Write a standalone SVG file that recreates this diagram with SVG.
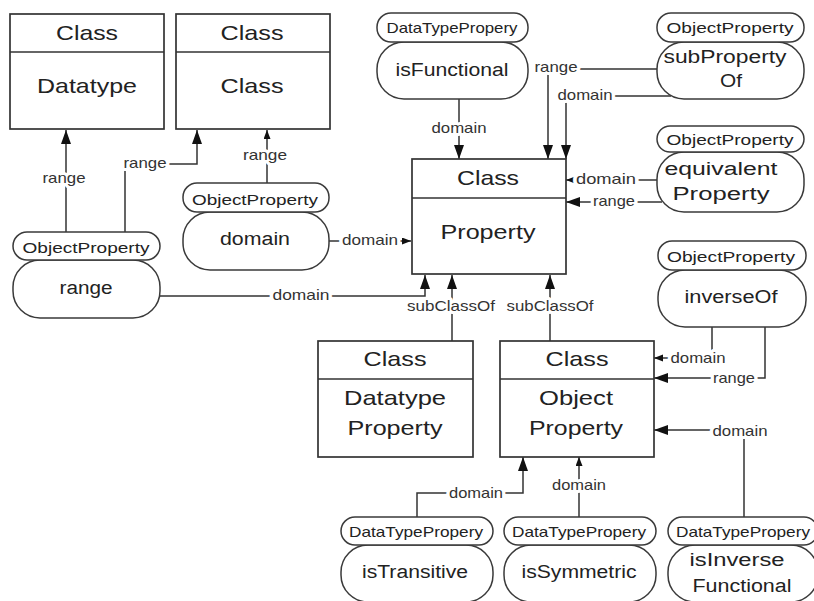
<svg xmlns="http://www.w3.org/2000/svg" width="814" height="601" viewBox="0 0 814 601">
  <style>
    .box { fill: #fff; stroke: #333; stroke-width: 1.7; }
    .div { stroke: #333; stroke-width: 1.7; }
    .pill { fill: #fff; stroke: #3a3a3a; stroke-width: 1.5; }
    .t { font-family: "Liberation Sans", Arial, sans-serif; fill: #222; text-anchor: middle; }
    .big { font-size: 21px; }
    .nt { font-size: 18px; }
    .pt { font-size: 15px; }
    .lab { font-size: 14.5px; fill: #333; stroke: #fff; stroke-width: 6; paint-order: stroke; stroke-linejoin: round; }
    .c { fill: none; stroke: #333; stroke-width: 1.5; }
    .ab { marker-end: url(#arrBig); }
    .as { marker-end: url(#arrSmall); }
  </style>
  <defs>
    <marker id="arrBig" markerUnits="userSpaceOnUse" markerWidth="15" markerHeight="11" refX="14" refY="5" orient="auto">
      <path d="M0,0 L14,5 L0,10 z" fill="#111"/>
    </marker>
    <marker id="arrSmall" markerUnits="userSpaceOnUse" markerWidth="10" markerHeight="8" refX="9" refY="3.5" orient="auto">
      <path d="M0,0 L9,3.5 L0,7 z" fill="#111"/>
    </marker>
  </defs>
  <rect width="814" height="601" fill="#fff"/>

  <!-- connectors -->
  <g id="connectors">
    <path class="c ab" d="M66,232 V130"/>
    <path class="c ab" d="M125,232 V164 H197 V130"/>
    <path class="c as" d="M267,183 V130"/>
    <path class="c ab" d="M459,99 V159"/>
    <path class="c ab" d="M657,69 H548 V159"/>
    <path class="c ab" d="M671,96 H566 V159"/>
    <path class="c as" d="M657,180 H566"/>
    <path class="c ab" d="M662,202 H566"/>
    <path class="c as" d="M329,241 H411"/>
    <path class="c ab" d="M160,296 H425 V275"/>
    <path class="c ab" d="M452,341 V275"/>
    <path class="c ab" d="M550,341 V275"/>
    <path class="c as" d="M712,327 V358 H654"/>
    <path class="c ab" d="M765,327 V378 H654"/>
    <path class="c ab" d="M744,517 V430 H654"/>
    <path class="c ab" d="M417,517 V493 H523 V457"/>
    <path class="c as" d="M579,517 V457"/>

    <text class="t lab" x="64" y="183" textLength="43" lengthAdjust="spacingAndGlyphs">range</text>
    <text class="t lab" x="145" y="168" textLength="43" lengthAdjust="spacingAndGlyphs">range</text>
    <text class="t lab" x="265" y="160" textLength="44" lengthAdjust="spacingAndGlyphs">range</text>
    <text class="t lab" x="459" y="133" textLength="55" lengthAdjust="spacingAndGlyphs">domain</text>
    <text class="t lab" x="556" y="72" textLength="43" lengthAdjust="spacingAndGlyphs">range</text>
    <text class="t lab" x="585" y="100" textLength="55" lengthAdjust="spacingAndGlyphs">domain</text>
    <text class="t lab" x="606" y="184" textLength="60" lengthAdjust="spacingAndGlyphs">domain</text>
    <text class="t lab" x="614" y="206" textLength="42" lengthAdjust="spacingAndGlyphs">range</text>
    <text class="t lab" x="370" y="245" textLength="56" lengthAdjust="spacingAndGlyphs">domain</text>
    <text class="t lab" x="301" y="300" textLength="57" lengthAdjust="spacingAndGlyphs">domain</text>
    <text class="t lab" x="451" y="311" textLength="88" lengthAdjust="spacingAndGlyphs">subClassOf</text>
    <text class="t lab" x="550" y="311" textLength="87" lengthAdjust="spacingAndGlyphs">subClassOf</text>
    <text class="t lab" x="698" y="363" textLength="55" lengthAdjust="spacingAndGlyphs">domain</text>
    <text class="t lab" x="734" y="383" textLength="42" lengthAdjust="spacingAndGlyphs">range</text>
    <text class="t lab" x="740" y="436" textLength="55" lengthAdjust="spacingAndGlyphs">domain</text>
    <text class="t lab" x="476" y="498" textLength="54" lengthAdjust="spacingAndGlyphs">domain</text>
    <text class="t lab" x="579" y="490" textLength="54" lengthAdjust="spacingAndGlyphs">domain</text>
  </g>

  <!-- class boxes -->
  <g id="datatype">
    <rect class="box" x="10" y="14" width="154" height="115"/>
    <line class="div" x1="10" y1="52" x2="164" y2="52"/>
    <text class="t big" x="87" y="40" textLength="62" lengthAdjust="spacingAndGlyphs">Class</text>
    <text class="t big" x="87" y="93" textLength="100" lengthAdjust="spacingAndGlyphs">Datatype</text>
  </g>
  <g id="class">
    <rect class="box" x="176" y="14" width="154" height="115"/>
    <line class="div" x1="176" y1="52" x2="330" y2="52"/>
    <text class="t big" x="252" y="40" textLength="63" lengthAdjust="spacingAndGlyphs">Class</text>
    <text class="t big" x="252" y="93" textLength="63" lengthAdjust="spacingAndGlyphs">Class</text>
  </g>
  <g id="property">
    <rect class="box" x="412" y="159" width="154" height="115"/>
    <line class="div" x1="412" y1="198" x2="566" y2="198"/>
    <text class="t big" x="488" y="185" textLength="62" lengthAdjust="spacingAndGlyphs">Class</text>
    <text class="t big" x="488" y="239" textLength="95" lengthAdjust="spacingAndGlyphs">Property</text>
  </g>
  <g id="datatypeProperty">
    <rect class="box" x="318" y="341" width="155" height="116"/>
    <line class="div" x1="318" y1="379" x2="473" y2="379"/>
    <text class="t big" x="395" y="366" textLength="63" lengthAdjust="spacingAndGlyphs">Class</text>
    <text class="t big" x="395" y="405" textLength="102" lengthAdjust="spacingAndGlyphs">Datatype</text>
    <text class="t big" x="395" y="435" textLength="95" lengthAdjust="spacingAndGlyphs">Property</text>
  </g>
  <g id="objectProperty">
    <rect class="box" x="500" y="341" width="154" height="116"/>
    <line class="div" x1="500" y1="379" x2="654" y2="379"/>
    <text class="t big" x="577" y="366" textLength="63" lengthAdjust="spacingAndGlyphs">Class</text>
    <text class="t big" x="576" y="405" textLength="74" lengthAdjust="spacingAndGlyphs">Object</text>
    <text class="t big" x="576" y="435" textLength="94" lengthAdjust="spacingAndGlyphs">Property</text>
  </g>

  <!-- property nodes: type tag above, name below -->
  <g id="rangeNode">
    <rect class="pill" x="13" y="260" width="147" height="58" rx="27" ry="27"/>
    <rect class="pill" x="13" y="232" width="147" height="28" rx="14" ry="14"/>
    <text class="t pt" x="86" y="253" textLength="127" lengthAdjust="spacingAndGlyphs">ObjectProperty</text>
    <text class="t nt" x="86" y="294" textLength="53" lengthAdjust="spacingAndGlyphs">range</text>
  </g>
  <g id="domainNode">
    <rect class="pill" x="183" y="212" width="146" height="58" rx="27" ry="27"/>
    <rect class="pill" x="183" y="183" width="146" height="29" rx="14" ry="14"/>
    <text class="t pt" x="255" y="205" textLength="126" lengthAdjust="spacingAndGlyphs">ObjectProperty</text>
    <text class="t nt" x="255" y="245" textLength="70" lengthAdjust="spacingAndGlyphs">domain</text>
  </g>
  <g id="isFunctional">
    <rect class="pill" x="377" y="42" width="151" height="57" rx="27" ry="27"/>
    <rect class="pill" x="377" y="13" width="151" height="29" rx="14" ry="14"/>
    <text class="t pt" x="452" y="33" textLength="131" lengthAdjust="spacingAndGlyphs">DataTypePropery</text>
    <text class="t nt" x="452" y="76" textLength="113" lengthAdjust="spacingAndGlyphs">isFunctional</text>
  </g>
  <g id="subPropertyOf">
    <rect class="pill" x="657" y="42" width="147" height="57" rx="27" ry="27"/>
    <rect class="pill" x="657" y="13" width="147" height="29" rx="14" ry="14"/>
    <text class="t pt" x="730" y="33" textLength="127" lengthAdjust="spacingAndGlyphs">ObjectProperty</text>
    <text class="t nt" x="725" y="63" textLength="123" lengthAdjust="spacingAndGlyphs">subProperty</text>
    <text class="t nt" x="731" y="87" textLength="22" lengthAdjust="spacingAndGlyphs">Of</text>
  </g>
  <g id="equivalentProperty">
    <rect class="pill" x="657" y="152" width="147" height="60" rx="27" ry="27"/>
    <rect class="pill" x="657" y="126" width="147" height="26" rx="13" ry="13"/>
    <text class="t pt" x="730" y="145" textLength="127" lengthAdjust="spacingAndGlyphs">ObjectProperty</text>
    <text class="t nt" x="721" y="175" textLength="113" lengthAdjust="spacingAndGlyphs">equivalent</text>
    <text class="t nt" x="721" y="200" textLength="97" lengthAdjust="spacingAndGlyphs">Property</text>
  </g>
  <g id="inverseOf">
    <rect class="pill" x="658" y="270" width="148" height="57" rx="27" ry="27"/>
    <rect class="pill" x="658" y="241" width="148" height="29" rx="14" ry="14"/>
    <text class="t pt" x="731" y="262" textLength="128" lengthAdjust="spacingAndGlyphs">ObjectProperty</text>
    <text class="t nt" x="731" y="303" textLength="93" lengthAdjust="spacingAndGlyphs">inverseOf</text>
  </g>
  <g id="isTransitive">
    <rect class="pill" x="341" y="545" width="152" height="57" rx="27" ry="27"/>
    <rect class="pill" x="341" y="517" width="152" height="28" rx="14" ry="14"/>
    <text class="t pt" x="416" y="537" textLength="134" lengthAdjust="spacingAndGlyphs">DataTypePropery</text>
    <text class="t nt" x="415" y="578" textLength="106" lengthAdjust="spacingAndGlyphs">isTransitive</text>
  </g>
  <g id="isSymmetric">
    <rect class="pill" x="504" y="545" width="152" height="57" rx="27" ry="27"/>
    <rect class="pill" x="504" y="517" width="152" height="28" rx="14" ry="14"/>
    <text class="t pt" x="579" y="537" textLength="134" lengthAdjust="spacingAndGlyphs">DataTypePropery</text>
    <text class="t nt" x="579" y="578" textLength="115" lengthAdjust="spacingAndGlyphs">isSymmetric</text>
  </g>
  <g id="isInverseFunctional">
    <rect class="pill" x="668" y="545" width="150" height="57" rx="27" ry="27"/>
    <rect class="pill" x="668" y="517" width="150" height="28" rx="14" ry="14"/>
    <text class="t pt" x="743" y="537" textLength="134" lengthAdjust="spacingAndGlyphs">DataTypePropery</text>
    <text class="t nt" x="737" y="566" textLength="95" lengthAdjust="spacingAndGlyphs">isInverse</text>
    <text class="t nt" x="742" y="592" textLength="99" lengthAdjust="spacingAndGlyphs">Functional</text>
  </g>
</svg>
